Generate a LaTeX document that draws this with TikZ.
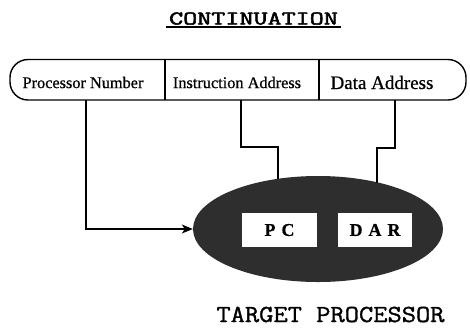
\documentclass[tikz,border=0pt]{standalone}
\usepackage{fontspec}
\setmainfont{Liberation Serif}[FakeBold=0.6]
\newfontfamily\serifheavy{Liberation Serif}[FakeBold=0.7]
\newfontfamily\typeheavy{Latin Modern Mono}[FakeBold=2.2]
\newfontfamily\typemed{Latin Modern Mono}[FakeBold=1.2]
\usetikzlibrary{arrows.meta,shapes.geometric}
\tikzset{
  wire/.style={line width=1.2pt},
  fieldtxt/.style={inner sep=0pt, font=\serifheavy\fontsize{16.3}{18}\selectfont},
  regbox/.style={draw=none, fill=white, minimum height=34pt, inner sep=0pt, font=\bfseries\fontsize{18}{20}\selectfont},
}
\begin{document}
\begin{tikzpicture}[x=1pt,y=-1pt]
\useasboundingbox (0,0) rectangle (470,327);
% title
\node[inner sep=0pt, anchor=base] (title) at (253.5,24.5) {\scalebox{1.4}[1]{\typeheavy\fontsize{19.5}{21}\selectfont CONTINUATION}};
\draw[line width=1.4pt] (166,27) -- (341,27);
% top record
\draw[line width=1.4pt, rounded corners=18pt] (10,59.5) rectangle (466,100);
\draw[line width=1.2pt] (165,59.5) -- (165,100);
\draw[line width=1.2pt] (319,59.5) -- (319,100);
\node[fieldtxt] (pn) at (83,82.5) {Processor Number};
\node[fieldtxt] (ia) at (237,82.5) {Instruction Address};
\node[fieldtxt, font=\serifheavy\fontsize{19}{21}\selectfont] (da) at (382,82.5) {Data Address};
\coordinate (pnb) at (86,100);
\coordinate (iab) at (241,100);
\coordinate (dab) at (395,100);
% target processor
\node[ellipse, fill=black!82, minimum width=250pt, minimum height=106pt, inner sep=0pt] (tp) at (318,229) {};
\coordinate (tpi) at (278,179);
\coordinate (tpd) at (377,182.5);
\node[regbox, minimum width=75pt] (pc) at (279.5,230) {\raisebox{-2.5pt}{P\,\,C}};
\node[regbox, minimum width=74pt] (dar) at (375,230) {\raisebox{-2.5pt}{D\,\,A\,\,R}};
\node[inner sep=0pt, anchor=base] (tpl) at (330.5,322) {\scalebox{1.13}[1]{\typemed\fontsize{24.5}{26}\selectfont TARGET PROCESSOR}};
% connectors
\draw[wire, -{Stealth[length=11pt, width=9pt, inset=3pt]}] (pnb) |- (tp.west);
\draw[wire] (iab) |- (278,147) -- (tpi);
\draw[wire] (dab) |- (377,148) -- (tpd);
\end{tikzpicture}
\end{document}
